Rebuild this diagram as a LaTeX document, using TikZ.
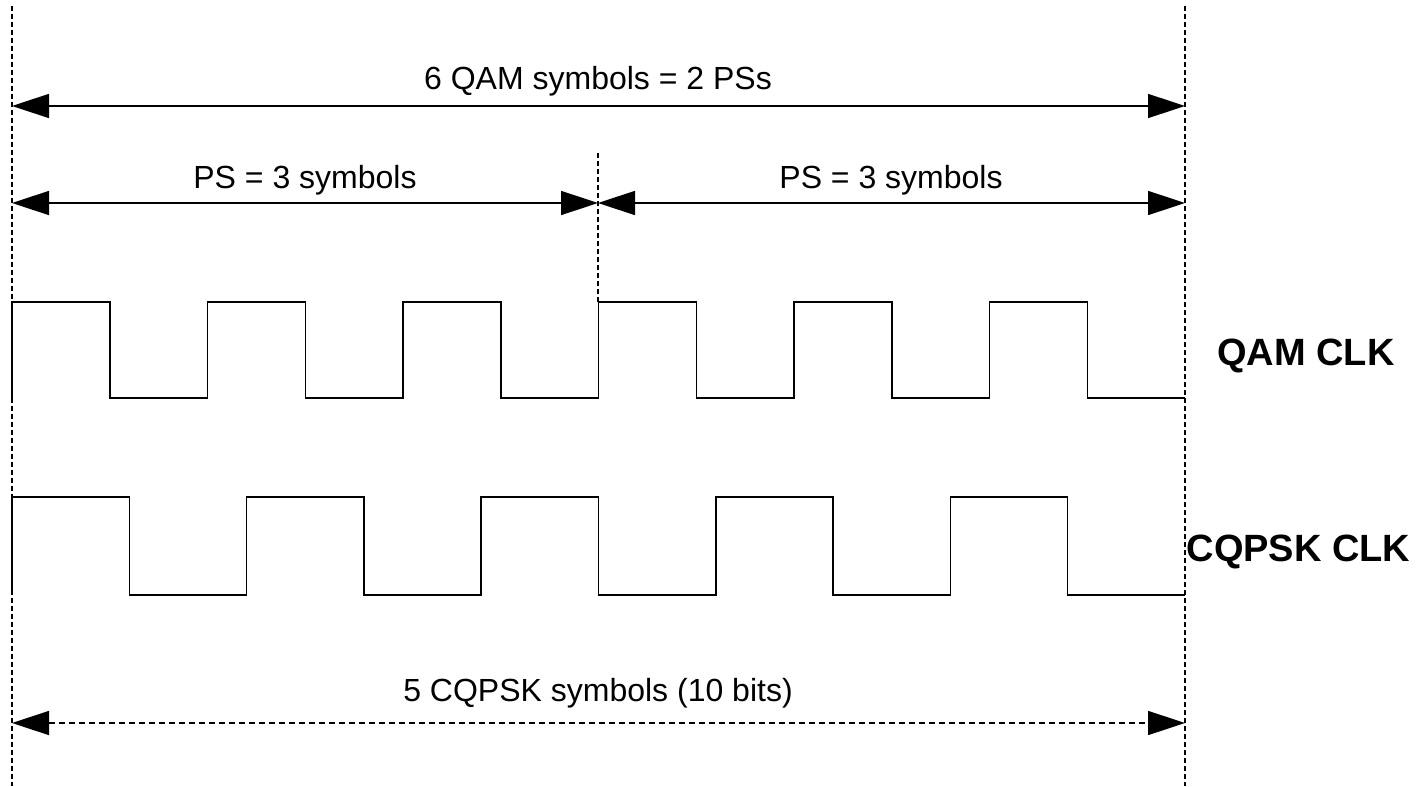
\documentclass[tikz,border=0pt]{standalone}
\usepackage{fontspec}
\setmainfont{Liberation Sans}
\usetikzlibrary{arrows.meta}

\tikzset{
    guide/.style={line width=0.7pt, dash pattern=on 2.5pt off 1.5pt},
    dimline/.style={line width=0.75pt,
        {Triangle[length=18.5pt,width=12pt]}-{Triangle[length=18.5pt,width=12pt]}},
    clkline/.style={line width=0.75pt},
    lbl/.style={font=\fontsize{16}{19}\selectfont, inner sep=0pt, anchor=base},
    clklbl/.style={font=\fontsize{19}{23}\selectfont\bfseries, inner sep=0pt, anchor=base}
}

\begin{document}
\begin{tikzpicture}[x=0.5pt, y=-0.5pt]
            \useasboundingbox (0,0) rectangle (1416,786);

            % guide lines
            \coordinate (lefttop) at (12,6);
            \coordinate (leftbot) at (12,786);
            \coordinate (righttop) at (1185,6);
            \coordinate (rightbot) at (1185,786);
            \coordinate (midtop) at (598,153);
            \coordinate (midbot) at (598,302);
            \draw[guide] (lefttop) -- (leftbot);
            \draw[guide] (righttop) -- (rightbot);
            \draw[guide] (midtop) -- (midbot);

            % QAM span
            \coordinate (qamL) at (12,106);
            \coordinate (qamR) at (1185,106);
            \draw[dimline] (qamL) -- (qamR);
            \node[lbl] (qamtxt) at (598,89.5) {6 QAM symbols = 2 PSs};

            % PS spans
            \coordinate (psL) at (12,203);
            \coordinate (psM) at (598,203);
            \coordinate (psR) at (1185,203);
            \draw[dimline] (psL) -- (psM);
            \draw[dimline] (psM) -- (psR);
            \node[lbl] (psatxt) at (305,188.5) {PS = 3 symbols};
            \node[lbl] (psbtxt) at (891,188.5) {PS = 3 symbols};

            % clocks
            \draw[clkline] (12,398) foreach \i in {1,...,6} {
                -- ++(0,-96) -- ++(97.75,0) -- ++(0,96) -- ++(97.75,0)
            };
            \draw[clkline] (12,595) foreach \i in {1,...,5} {
                -- ++(0,-98) -- ++(117.3,0) -- ++(0,98) -- ++(117.3,0)
            };
            \node[clklbl] (qamclk) at (1306,365.5) {QAM CLK};
            \node[clklbl] (cqpskclk) at (1298.5,561.5) {CQPSK CLK};

            % CQPSK span
            \coordinate (cqL) at (12,723);
            \coordinate (cqR) at (1185,723);
            \draw[dimline, dash pattern=on 3pt off 2pt] (cqL) -- (cqR);
            \node[lbl] (cqtxt) at (598,701.5) {5 CQPSK symbols (10 bits)};
        \end{tikzpicture}
\end{document}
